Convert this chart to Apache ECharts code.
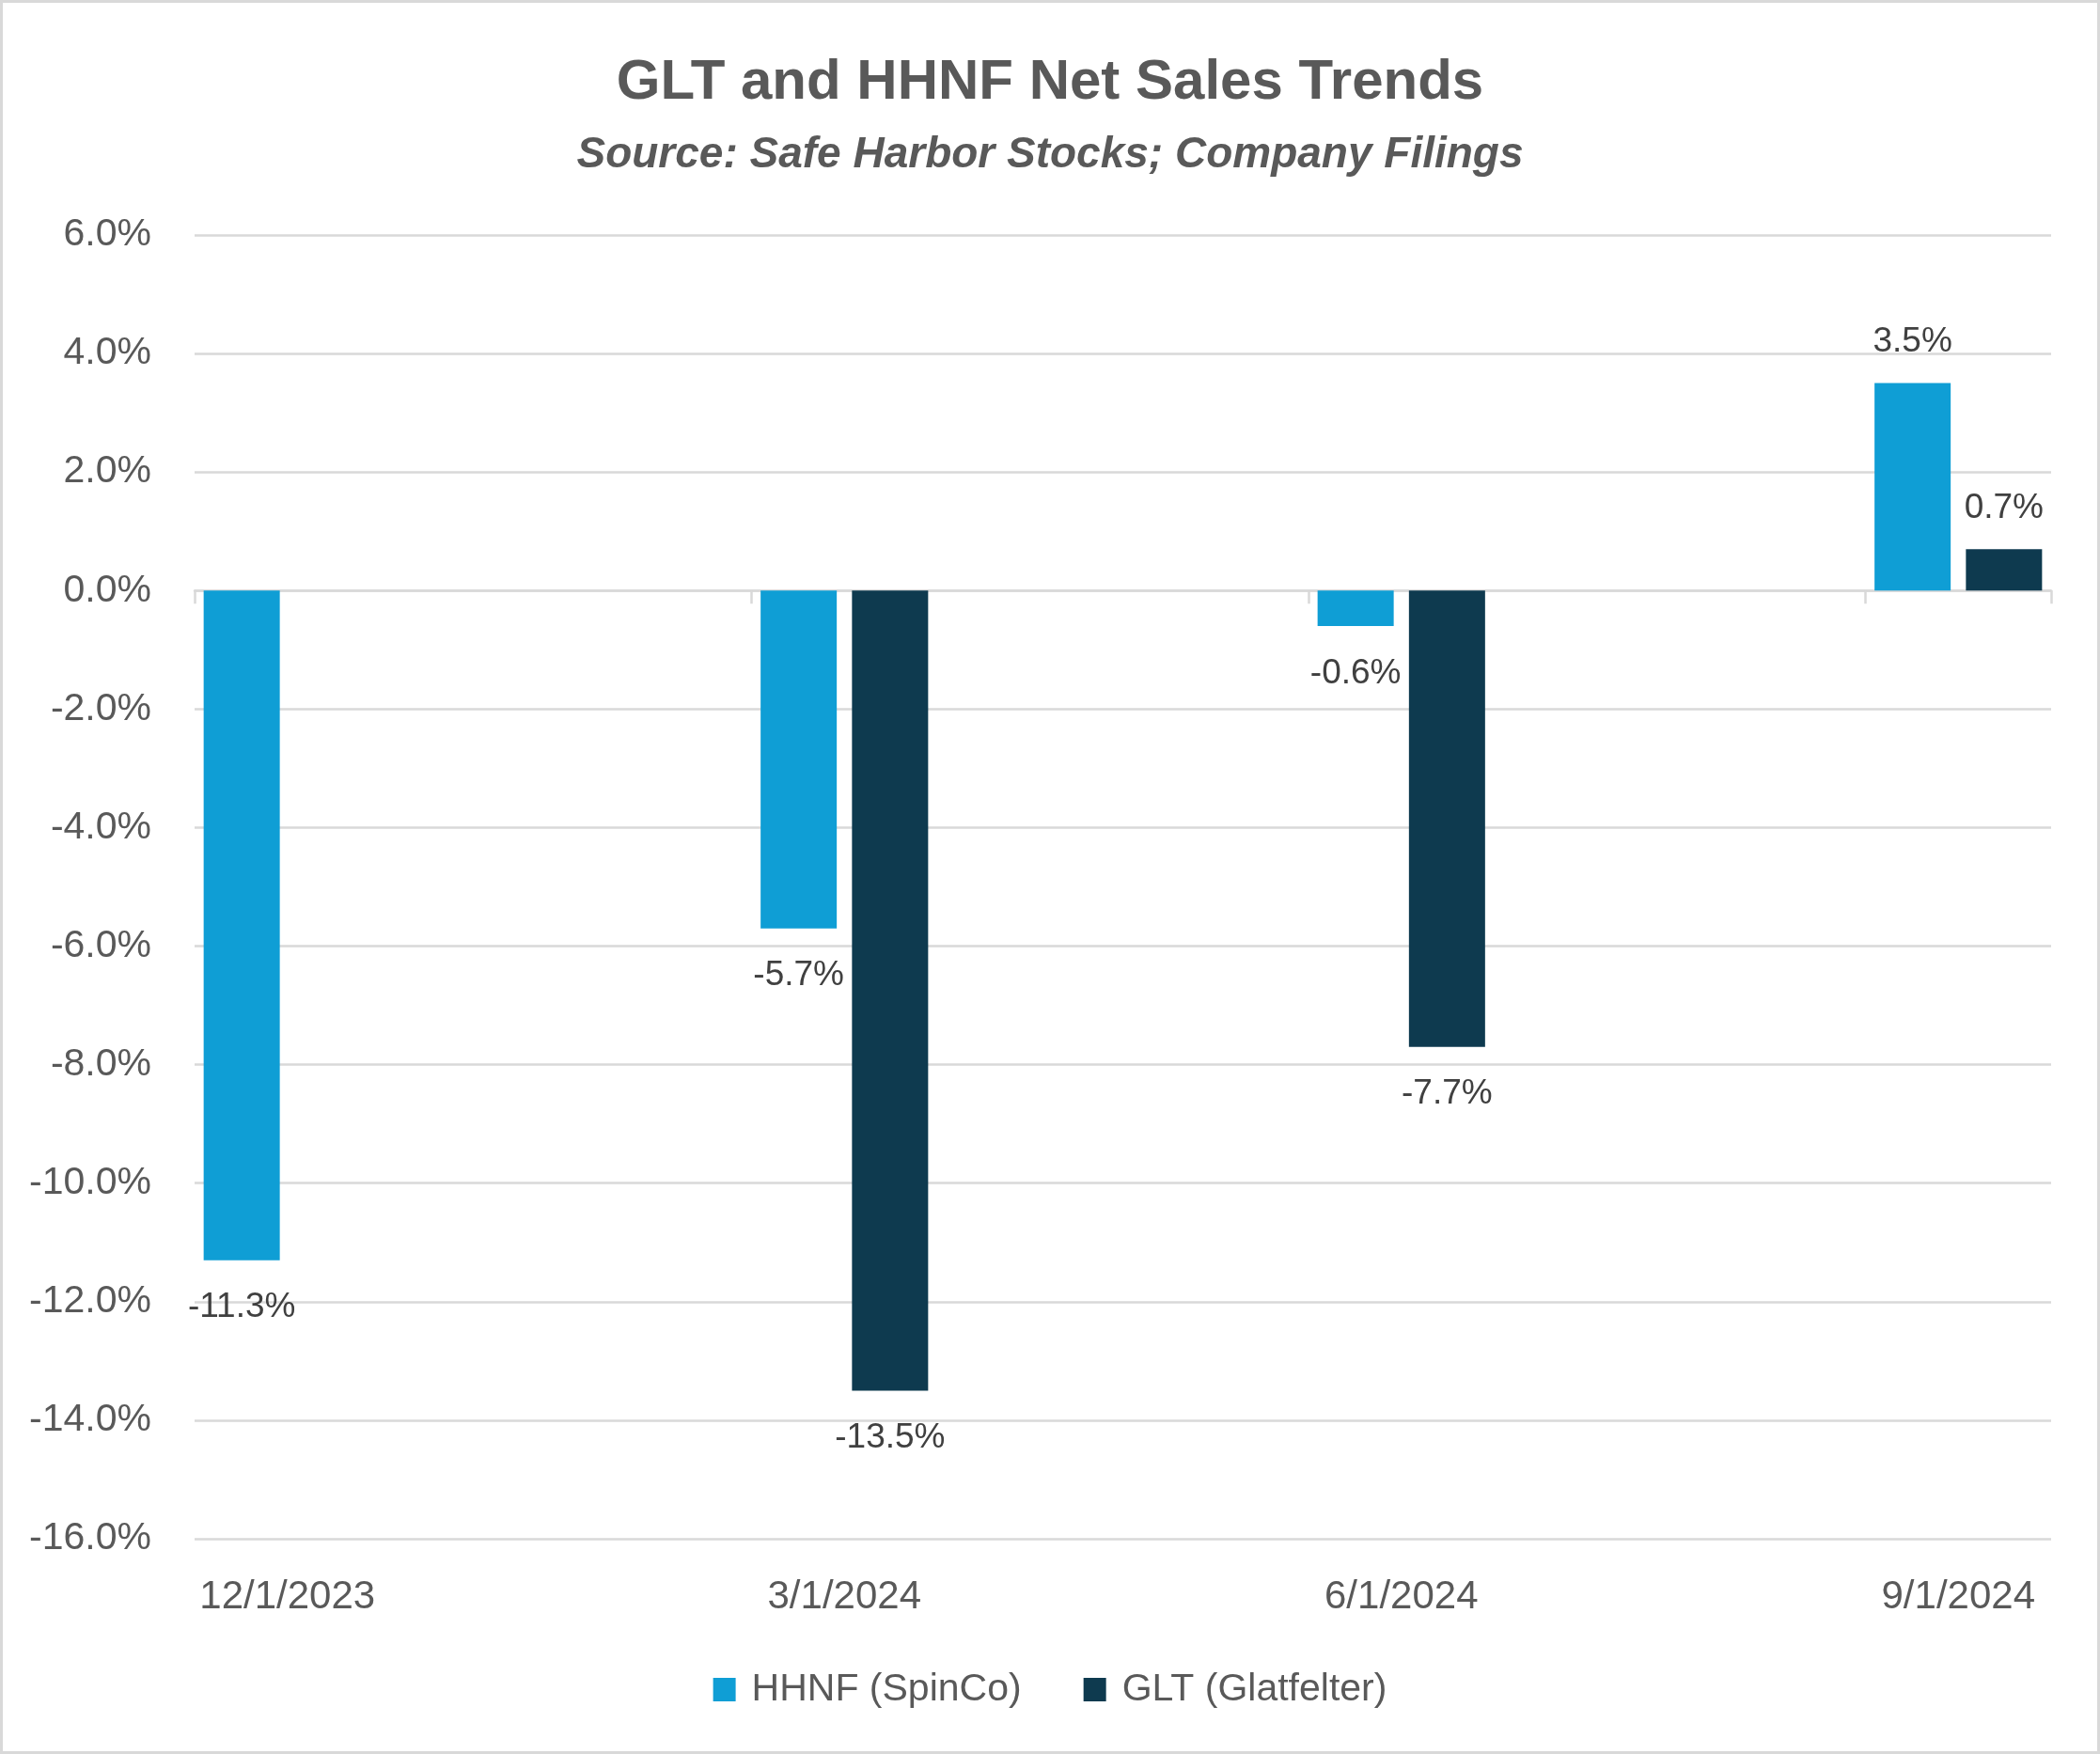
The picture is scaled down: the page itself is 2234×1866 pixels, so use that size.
<!DOCTYPE html>
<html>
<head>
<meta charset="utf-8">
<script src="https://cdn.jsdelivr.net/npm/echarts@6/dist/echarts.min.js"></script>
<style>
  html, body { margin: 0; padding: 0; background: #ffffff; }
  #chart { width: 2234px; height: 1866px; }
</style>
</head>
<body>
<div id="chart"></div>
<script>
// ---- data ----
const titleText = 'GLT and HHNF Net Sales Trends';
const subtitleText = 'Source: Safe Harbor Stocks; Company Filings';
const categories = ['12/1/2023', '3/1/2024', '6/1/2024', '9/1/2024'];
const seriesNames = ['HHNF (SpinCo)', 'GLT (Glatfelter)'];
const hhnfValues = [-11.3, -5.7, -0.6, 3.5];
const gltValues = [null, -13.5, -7.7, 0.7];
const yMin = -16, yMax = 6, yStep = 2;

// ---- build monthly date slots (date axis with monthly base unit) ----
function parseDate(s) { const p = s.split('/').map(Number); return { m: p[0], d: p[1], y: p[2] }; }
const first = parseDate(categories[0]);
const last = parseDate(categories[categories.length - 1]);
const slots = [];
let m = first.m, y = first.y;
while (y < last.y || (y === last.y && m <= last.m)) {
  slots.push(m + '/1/' + y);
  m++; if (m > 12) { m = 1; y++; }
}
function toSlots(vals) {
  return slots.map(s => {
    const i = categories.indexOf(s);
    return i >= 0 ? vals[i] : null;
  });
}
function labelItems(vals) {
  return toSlots(vals).map(v => {
    if (v === null) return null;
    return { value: v, label: { position: v < 0 ? 'bottom' : 'top', distance: v < 0 ? 32 : 25 } };
  });
}

const textColor = '#595959';
const gridColor = '#D9D9D9';
const fontFamily = '"Liberation Sans", Arial, sans-serif';

const chart = echarts.init(document.getElementById('chart'), null, { renderer: 'canvas' });
chart.setOption({
  backgroundColor: '#ffffff',
  animation: false,
  graphic: [{
    type: 'rect',
    shape: { x: 1.5, y: 1.5, width: 2231, height: 1863 },
    style: { fill: 'none', stroke: '#D9D9D9', lineWidth: 3 },
    silent: true, z: 100
  }],
  title: [
    {
      text: titleText, left: 'center', top: 53,
      textStyle: { fontFamily: fontFamily, fontSize: 60, fontWeight: 'bold', color: textColor }
    },
    {
      text: subtitleText, left: 'center', top: 137,
      textStyle: { fontFamily: fontFamily, fontSize: 46, fontWeight: 'bold', fontStyle: 'italic', color: textColor }
    }
  ],
  legend: {
    data: seriesNames,
    left: 'center', top: 1772,
    icon: 'rect', itemWidth: 24, itemHeight: 25, itemGap: 66,
    textStyle: { fontFamily: fontFamily, fontSize: 41, color: textColor, padding: [0, 0, 0, 12] }
  },
  grid: { left: 207, right: 52, top: 250, bottom: 229, containLabel: false },
  xAxis: [
    {
      type: 'category', data: slots, position: 'bottom',
      axisLine: { show: true, onZero: true, lineStyle: { color: gridColor, width: 2.5 } },
      axisTick: { show: true, interval: 2, alignWithLabel: false, length: 14, lineStyle: { color: gridColor, width: 2.5 } },
      axisLabel: { show: false },
      splitLine: { show: false }
    },
    {
      type: 'category', data: slots, position: 'bottom',
      axisLine: { show: false, onZero: false },
      axisTick: { show: false },
      axisLabel: { show: true, interval: 2, margin: 41, fontFamily: fontFamily, fontSize: 42, color: textColor },
      splitLine: { show: false }
    }
  ],
  yAxis: {
    type: 'value', min: yMin, max: yMax, interval: yStep,
    axisLine: { show: false }, axisTick: { show: false },
    axisLabel: {
      margin: 46, fontFamily: fontFamily, fontSize: 41, color: textColor,
      padding: [4, 0, 0, 0],
      formatter: v => v.toFixed(1) + '%'
    },
    splitLine: { show: true, lineStyle: { color: gridColor, width: 2.5 } }
  },
  series: [
    {
      name: seriesNames[0], type: 'bar', xAxisIndex: 0,
      data: labelItems(hhnfValues),
      barWidth: 81, barGap: '20%',
      itemStyle: { color: '#0F9ED5' },
      label: {
        show: true, fontFamily: fontFamily, fontSize: 37, color: '#404040',
        formatter: p => Number(p.value).toFixed(1) + '%'
      }
    },
    {
      name: seriesNames[1], type: 'bar', xAxisIndex: 0,
      data: labelItems(gltValues),
      barWidth: 81, barGap: '20%',
      itemStyle: { color: '#0E3A4F' },
      label: {
        show: true, fontFamily: fontFamily, fontSize: 37, color: '#404040',
        formatter: p => Number(p.value).toFixed(1) + '%'
      }
    }
  ]
});
</script>
</body>
</html>
